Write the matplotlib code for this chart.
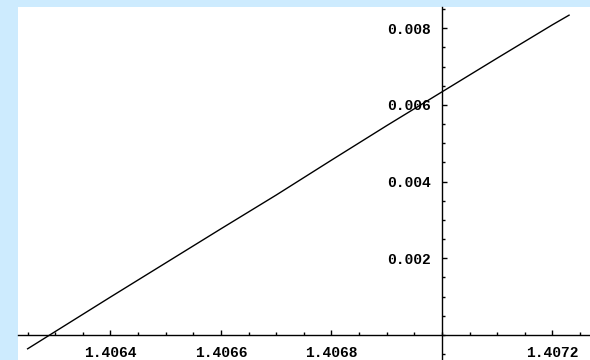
import matplotlib
matplotlib.use("Agg")
import matplotlib.pyplot as plt
from matplotlib.ticker import FixedLocator, MultipleLocator

# Data
x_vals = [1.40625, 1.40629, 1.40630, 1.40640, 1.40650, 1.40660, 1.40670,
          1.40680, 1.40690, 1.40700, 1.40710, 1.40720, 1.40723]
y_vals = [-0.00036, 0.00000, 0.00009, 0.00099, 0.00188, 0.00277, 0.00365,
          0.00456, 0.00546, 0.00634, 0.00722, 0.00809, 0.00834]

x_ticks = [1.4064, 1.4066, 1.4068, 1.4072]
x_tick_labels = ["1.4064", "1.4066", "1.4068", "1.4072"]
y_ticks = [0.002, 0.004, 0.006, 0.008]
y_tick_labels = ["0.002", "0.004", "0.006", "0.008"]

fig = plt.figure(figsize=(5.9, 3.6), dpi=100)
fig.patch.set_facecolor("#cdebfe")
ax = fig.add_axes([18 / 590, 0, 572 / 590, 353 / 360])
ax.set_facecolor("white")

ax.plot(x_vals, y_vals, color="black", lw=1.0)

ax.set_xlim(1.4062326, 1.4072679)
ax.set_ylim(-0.000652, 0.008553)

for s in ["top", "right"]:
    ax.spines[s].set_visible(False)
ax.spines["left"].set_position(("data", 1.407))
ax.spines["bottom"].set_position(("data", 0.0))
for s in ["left", "bottom"]:
    ax.spines[s].set_linewidth(1.0)

ax.xaxis.set_major_locator(FixedLocator(x_ticks))
ax.set_xticklabels(x_tick_labels)
ax.xaxis.set_minor_locator(MultipleLocator(0.00005))
ax.yaxis.set_major_locator(FixedLocator(y_ticks))
ax.set_yticklabels(y_tick_labels)
ax.yaxis.set_minor_locator(MultipleLocator(0.0005))

ax.tick_params(axis="both", which="major", direction="in", length=3.5,
               width=1.0, color="black")
ax.tick_params(axis="both", which="minor", direction="in", length=2,
               width=1.0, color="black")
ax.tick_params(axis="x", which="major", pad=8)
ax.tick_params(axis="y", which="major", pad=8)
for lab in ax.get_xticklabels() + ax.get_yticklabels():
    lab.set_fontfamily("Liberation Mono")
    lab.set_fontsize(10.5)
    lab.set_fontweight("bold")

fig.savefig("out.png", dpi=100, facecolor=fig.get_facecolor())
